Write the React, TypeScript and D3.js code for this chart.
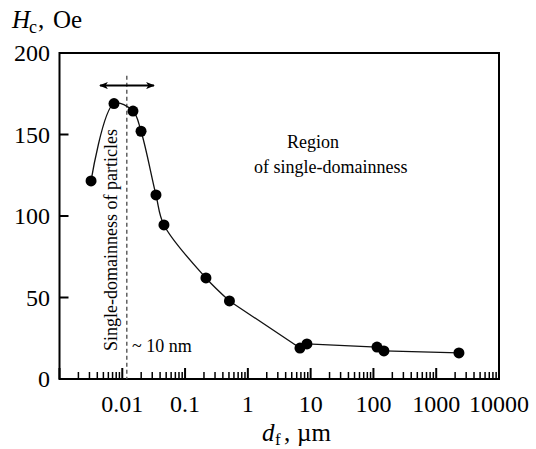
import * as d3 from "d3";
import React from "react";

// particle size d_f (µm) and coercivity Hc (Oe)
const sizes = [0.00318, 0.00738, 0.0148, 0.0199, 0.0344, 0.0461, 0.215, 0.509, 6.76, 8.73, 114, 147, 2300];
const hc = [121.5, 169, 164.4, 152, 112.9, 94.5, 62, 47.9, 19, 21.5, 19.6, 17.2, 16];
// the smooth part of the curve ends at this point, the rest is straight segments
const smoothUntil = 7;

const yTicks = [0, 50, 100, 150, 200];
const xTickLabels = ["0.01", "0.1", "1", "10", "100", "1000", "10000"];

// dashed limit (~10 nm) and arrow span
const limitSize = 0.0118;
const arrowSpan = [0.00441, 0.032];
const arrowHc = 180;
const limitTop = 186;

const W = 536;
const H = 449;
const margin = { top: 53, right: 37, bottom: 70, left: 59.5 };
const font = "Liberation Serif, DejaVu Serif, serif";

const App = () => {
	const x = d3.scaleLog().domain([0.001, 10000]).range([margin.left, W - margin.right]);
	const y = d3.scaleLinear().domain([0, 200]).range([H - margin.bottom, margin.top]);

	const pts: [number, number][] = sizes.map((s, i) => [x(s), y(hc[i])]);
	const smooth = d3.line().curve(d3.curveCatmullRom.alpha(0.5))(pts.slice(0, smoothUntil + 1)) || "";
	const straight = d3.line()(pts.slice(smoothUntil)) || "";

	const allTicks = x.ticks();
	const isMajor = (t: number) => Math.abs(Math.log10(t) - Math.round(Math.log10(t))) < 1e-6;

	const x0 = margin.left;
	const x1 = W - margin.right;
	const y0 = H - margin.bottom;
	const y1 = margin.top;

	return (
		<svg width={W} height={H} style={{ position: "absolute", left: 0, top: 0, background: "#fff", fontFamily: font }}>
			<defs>
				<marker id="ah" viewBox="0 0 10 8" refX="9" refY="4" markerWidth="9" markerHeight="7" markerUnits="userSpaceOnUse" orient="auto-start-reverse">
					<path d="M0,0 L10,4 L0,8 L2.5,4 Z" fill="#000" />
				</marker>
			</defs>

			{/* frame */}
			<rect x={x0} y={y1} width={x1 - x0} height={y0 - y1} fill="none" stroke="#000" strokeWidth={2} />

			{/* y ticks */}
			{yTicks.map(t => (
				<g key={"y" + t}>
					<line x1={x0} x2={x0 + 9} y1={y(t)} y2={y(t)} stroke="#000" strokeWidth={2} />
					<text x={50} y={y(t) + 8} textAnchor="end" fontSize={24}>{t}</text>
				</g>
			))}

			{/* x ticks */}
			{allTicks.map((t, i) => {
				const major = isMajor(t);
				return (
					<line key={"x" + i} x1={x(t)} x2={x(t)} y1={y0} y2={y0 - (major ? 11 : 7)} stroke="#000" strokeWidth={major ? 2 : 1.5} />
				);
			})}
			{xTickLabels.map(l => (
				<text key={"xl" + l} x={x(+l)} y={y0 + 33} textAnchor="middle" fontSize={24}>{l}</text>
			))}

			{/* axis titles */}
			<text y={28} fontSize={25}>
				<tspan x={12} fontStyle="italic">H</tspan>
				<tspan x={29} fontSize={18} dy={5}>c</tspan>
				<tspan x={38} dy={-5}>,</tspan>
				<tspan x={53}>Oe</tspan>
			</text>
			<text y={441} fontSize={25}>
				<tspan x={262} fontStyle="italic">d</tspan>
				<tspan x={275} fontSize={17} dy={4}>f</tspan>
				<tspan x={284} dy={-4}>,</tspan>
				<tspan x={297}>µm</tspan>
			</text>

			{/* limit line and arrow */}
			<line x1={x(limitSize)} x2={x(limitSize)} y1={y(limitTop)} y2={y0} stroke="#555" strokeWidth={1.4} strokeDasharray="4,3" />
			<line x1={x(arrowSpan[0])} x2={x(arrowSpan[1])} y1={y(arrowHc)} y2={y(arrowHc)} stroke="#000" strokeWidth={2}
				markerStart="url(#ah)" markerEnd="url(#ah)" />

			{/* curve and points */}
			<path d={smooth} fill="none" stroke="#111" strokeWidth={1.3} />
			<path d={straight} fill="none" stroke="#111" strokeWidth={1.3} />
			{pts.map((p, i) => (
				<circle key={"p" + i} cx={p[0]} cy={p[1]} r={5.5} fill="#000" />
			))}

			{/* annotations */}
			<text transform={`translate(117,240) rotate(-90)`} textAnchor="middle" fontSize={18}>Single-domainness of particles</text>
			<text x={132} y={352} fontSize={18}>~ 10 nm</text>
			<text x={287} y={148} fontSize={18}>Region</text>
			<text x={254} y={173} fontSize={18}>of single-domainness</text>
		</svg>
	);
};

export default App;
